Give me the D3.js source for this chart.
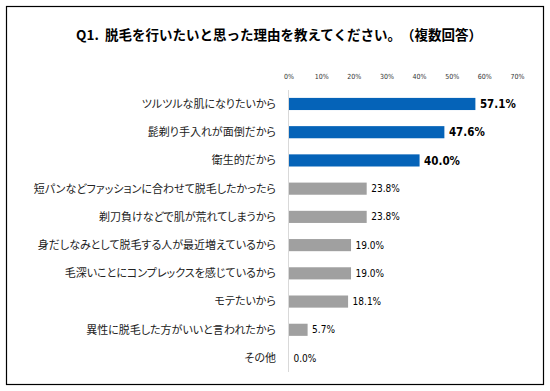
<!DOCTYPE html>
<html lang="ja">
<head>
<meta charset="UTF-8">
<title>Q1 脱毛を行いたいと思った理由</title>
<script src="https://d3js.org/d3.v7.min.js"></script>
<style>
  body { margin: 0; background: #fff; font-family: "Noto Sans CJK JP", sans-serif; }
  svg { display: block; }
  .title { text-spacing-trim: space-all; white-space: pre; }
</style>
</head>
<body>
<svg id="chart" width="550" height="391"></svg>
<script>
// data
const categories = [
  "ツルツルな肌になりたいから",
  "髭剃り手入れが面倒だから",
  "衛生的だから",
  "短パンなどファッションに合わせて脱毛したかったら",
  "剃刀負けなどで肌が荒れてしまうから",
  "身だしなみとして脱毛する人が最近増えているから",
  "毛深いことにコンプレックスを感じているから",
  "モテたいから",
  "異性に脱毛した方がいいと言われたから",
  "その他"
];
const values = [57.1, 47.6, 40.0, 23.8, 23.8, 19.0, 19.0, 18.1, 5.7, 0.0];
const highlighted = [true, true, true, false, false, false, false, false, false, false];
const ticks = [0, 10, 20, 30, 40, 50, 60, 70];
const title = "Q1.  脱毛を行いたいと思った理由を教えてください。（複数回答）";

const numFont = "'DejaVu Sans Condensed', 'Liberation Sans', sans-serif";
const svg = d3.select("#chart");

// outer frame
svg.append("rect")
  .attr("x", 6.5).attr("y", 6.5)
  .attr("width", 537).attr("height", 378)
  .attr("fill", "#fff")
  .attr("stroke", "#000")
  .attr("stroke-width", 1.2);

svg.append("text")
  .attr("class", "title")
  .attr("x", 279).attr("y", 40)
  .attr("text-anchor", "middle")
  .style("font-size", "13.5px")
  .style("font-weight", "bold")
  .attr("fill", "#000")
  .text(title);

const x = d3.scaleLinear().domain([0, 70]).range([288.5, 517]);
const y = d3.scaleBand().domain(categories).range([90, 372]).paddingInner(0.57).paddingOuter(0.28);

// top axis labels
const axis = svg.append("g")
  .attr("transform", "translate(0,79)")
  .call(d3.axisTop(x).tickValues(ticks).tickFormat(d => d + "%").tickSize(0).tickPadding(0));
axis.select(".domain").remove();
axis.selectAll("text")
  .style("font-family", numFont)
  .style("font-size", "7px")
  .attr("fill", "#333");

// vertical axis line
svg.append("line")
  .attr("x1", x(0)).attr("x2", x(0))
  .attr("y1", 90).attr("y2", 372)
  .attr("stroke", "#d9d9d9")
  .attr("stroke-width", 1);

const rows = svg.selectAll(".row")
  .data(categories)
  .enter()
  .append("g")
  .attr("class", "row");

rows.append("text")
  .attr("x", 276)
  .attr("y", d => y(d) + y.bandwidth() / 2)
  .attr("dy", "0.35em")
  .attr("text-anchor", "end")
  .style("font-size", "11px")
  .style("font-feature-settings", "'palt'")
  .attr("fill", "#222")
  .text(d => d);

rows.append("rect")
  .attr("x", x(0) + 0.5)
  .attr("y", d => y(d))
  .attr("width", (d, i) => x(values[i]) - x(0))
  .attr("height", y.bandwidth())
  .attr("fill", (d, i) => highlighted[i] ? "#0563b8" : "#a0a0a0");

rows.append("text")
  .attr("x", (d, i) => x(values[i]) + 5)
  .attr("y", d => y(d) + y.bandwidth() / 2)
  .attr("dy", "0.36em")
  .style("font-family", numFont)
  .style("font-size", (d, i) => highlighted[i] ? "11.5px" : "10px")
  .style("font-weight", (d, i) => highlighted[i] ? "bold" : "normal")
  .attr("fill", "#000")
  .text((d, i) => values[i].toFixed(1) + "%");
</script>
</body>
</html>
